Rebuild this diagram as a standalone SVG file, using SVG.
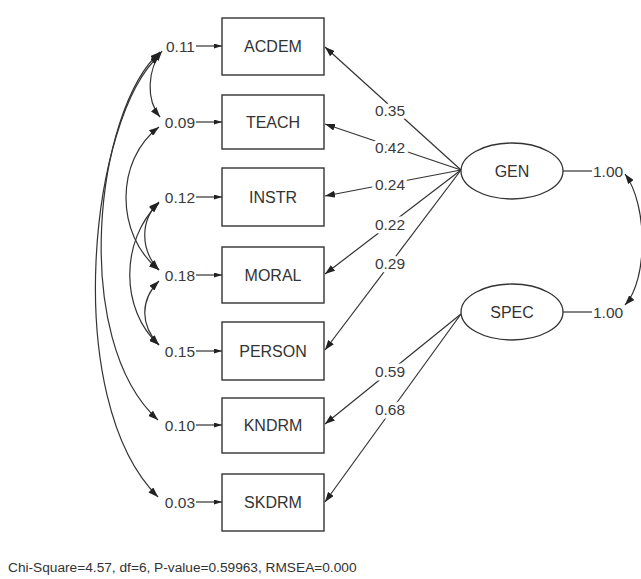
<svg xmlns="http://www.w3.org/2000/svg" width="641" height="579" viewBox="0 0 641 579">
<defs>
<style>
.box{fill:#fff;stroke:#333;stroke-width:1.4}
.ell{fill:#fff;stroke:#333;stroke-width:1.3}
.lbl{font-family:"Liberation Sans",Arial,sans-serif;font-size:16px;fill:#333;text-anchor:middle}
.num{font-family:"Liberation Sans",Arial,sans-serif;font-size:15.5px;fill:#3a3a3a}
.halo{paint-order:stroke;stroke:#fff;stroke-width:7px;stroke-linejoin:round}
.ln{fill:none;stroke:#333;stroke-width:1.2}
</style>
<marker id="ah" viewBox="0 0 10 7" refX="10" refY="3.5" markerWidth="10" markerHeight="7" markerUnits="userSpaceOnUse" orient="auto-start-reverse"><path d="M0,0 L10,3.5 L0,7 z" fill="#222"/></marker>
<marker id="as" viewBox="0 0 8 5" refX="8" refY="2.5" markerWidth="8" markerHeight="5" markerUnits="userSpaceOnUse" orient="auto-start-reverse"><path d="M0,0 L8,2.5 L0,5 z" fill="#222"/></marker>
</defs>
<rect width="641" height="579" fill="#fff"/>
<g id="connectors">
<line class="ln" x1="461" y1="170" x2="325" y2="47" marker-end="url(#ah)"/>
<line class="ln" x1="461" y1="170" x2="325" y2="124" marker-end="url(#ah)"/>
<line class="ln" x1="461" y1="170" x2="325" y2="196" marker-end="url(#ah)"/>
<line class="ln" x1="461" y1="170" x2="325" y2="274" marker-end="url(#ah)"/>
<line class="ln" x1="461" y1="170" x2="325" y2="350" marker-end="url(#ah)"/>
<line class="ln" x1="461" y1="314" x2="325" y2="424" marker-end="url(#ah)"/>
<line class="ln" x1="461" y1="314" x2="325" y2="502" marker-end="url(#ah)"/>
<line class="ln" x1="196" y1="46" x2="222" y2="46" marker-end="url(#as)"/>
<line class="ln" x1="196" y1="122" x2="222" y2="122" marker-end="url(#as)"/>
<line class="ln" x1="196" y1="197" x2="222" y2="197" marker-end="url(#as)"/>
<line class="ln" x1="196" y1="275" x2="222" y2="275" marker-end="url(#as)"/>
<line class="ln" x1="196" y1="351" x2="222" y2="351" marker-end="url(#as)"/>
<line class="ln" x1="196" y1="425" x2="222" y2="425" marker-end="url(#as)"/>
<line class="ln" x1="196" y1="502" x2="222" y2="502" marker-end="url(#as)"/>
<path class="ln" d="M162,51 C147,70 146,100 160,117" marker-start="url(#ah)" marker-end="url(#ah)"/>
<path class="ln" d="M160,52 C95,110 70,340 158,420" marker-start="url(#ah)" marker-end="url(#ah)"/>
<path class="ln" d="M160,55 C90,115 60,400 158,497" marker-start="url(#ah)" marker-end="url(#ah)"/>
<path class="ln" d="M159,127 C115,160 115,235 159,270" marker-start="url(#ah)" marker-end="url(#ah)"/>
<path class="ln" d="M159,202 C140,220 140,250 159,270" marker-start="url(#ah)" marker-end="url(#ah)"/>
<path class="ln" d="M159,203 C120,240 120,310 159,345" marker-start="url(#ah)" marker-end="url(#ah)"/>
<path class="ln" d="M159,281 C140,300 140,325 159,345" marker-start="url(#ah)" marker-end="url(#ah)"/>
<line class="ln" x1="563" y1="171" x2="592" y2="171"/>
<line class="ln" x1="563" y1="312" x2="592" y2="312"/>
<path class="ln" d="M625,174 C648,205 648,280 625,305" marker-start="url(#ah)" marker-end="url(#ah)"/>
</g>
<g id="path-labels">
<text class="num halo" x="390" y="116" text-anchor="middle">0.35</text>
<text class="num halo" x="390" y="153" text-anchor="middle">0.42</text>
<text class="num halo" x="390" y="190" text-anchor="middle">0.24</text>
<text class="num halo" x="390" y="230" text-anchor="middle">0.22</text>
<text class="num halo" x="390" y="269" text-anchor="middle">0.29</text>
<text class="num halo" x="390" y="377" text-anchor="middle">0.59</text>
<text class="num halo" x="390" y="415" text-anchor="middle">0.68</text>
</g>
<g id="errors">
<text class="num" x="195" y="52" text-anchor="end">0.11</text>
<text class="num" x="195" y="128" text-anchor="end">0.09</text>
<text class="num" x="195" y="203" text-anchor="end">0.12</text>
<text class="num" x="195" y="281" text-anchor="end">0.18</text>
<text class="num" x="195" y="357" text-anchor="end">0.15</text>
<text class="num" x="195" y="431" text-anchor="end">0.10</text>
<text class="num" x="195" y="508" text-anchor="end">0.03</text>
</g>
<g id="ACDEM"><rect class="box" x="222" y="18" width="102" height="57"/><text class="lbl" x="273" y="52">ACDEM</text></g>
<g id="TEACH"><rect class="box" x="222" y="95" width="102" height="54"/><text class="lbl" x="273" y="128">TEACH</text></g>
<g id="INSTR"><rect class="box" x="222" y="168" width="102" height="58"/><text class="lbl" x="273" y="203">INSTR</text></g>
<g id="MORAL"><rect class="box" x="222" y="247" width="102" height="56"/><text class="lbl" x="273" y="281">MORAL</text></g>
<g id="PERSON"><rect class="box" x="222" y="322" width="102" height="58"/><text class="lbl" x="273" y="357">PERSON</text></g>
<g id="KNDRM"><rect class="box" x="222" y="398" width="102" height="55"/><text class="lbl" x="273" y="431">KNDRM</text></g>
<g id="SKDRM"><rect class="box" x="222" y="474" width="102" height="57"/><text class="lbl" x="273" y="508">SKDRM</text></g>
<g id="GEN"><ellipse class="ell" cx="512" cy="171" rx="51" ry="28"/><text class="lbl" x="512" y="177">GEN</text></g>
<g id="SPEC"><ellipse class="ell" cx="512" cy="312" rx="51" ry="28"/><text class="lbl" x="512" y="318">SPEC</text></g>
<g id="variances">
<text class="num" x="593" y="177">1.00</text>
<text class="num" x="593" y="318">1.00</text>
</g>
<g id="fit">
<text x="8" y="572" font-family="'Liberation Sans',Arial,sans-serif" font-size="13.7" fill="#333">Chi-Square=4.57, df=6, P-value=0.59963, RMSEA=0.000</text>
</g>
</svg>
